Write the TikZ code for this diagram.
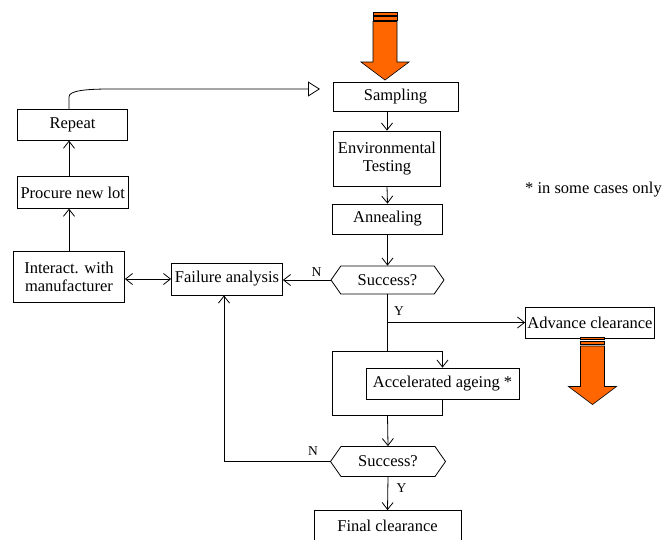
\documentclass[tikz,border=0pt]{standalone}
\usepackage{fontspec}
\setmainfont{Liberation Serif}
\usetikzlibrary{arrows.meta,shapes.symbols}
\definecolor{arroworange}{HTML}{FF6600}
\tikzset{
  box/.style={draw, rectangle, line width=0.8pt, inner sep=2pt, align=center,
    font=\fontsize{16.5}{18.5}\selectfont},
  test/.style={draw, signal, signal to=west and east, signal pointer angle=110,
    line width=0.8pt, inner sep=0pt, minimum width=113pt, minimum height=28pt,
    font=\fontsize{16.5}{18.5}\selectfont},
  lbl/.style={font=\fontsize{13.5}{15}\selectfont, inner sep=1pt},
  flow/.style={line width=0.8pt, ->},
  >={Straight Barb[length=7pt,width=11pt]}
}
\begin{document}
\begin{tikzpicture}[x=1pt,y=-1pt]
        \useasboundingbox (0,0) rectangle (663,539);
        % main column
        \node[box, minimum width=125pt, minimum height=29pt] (sampling) at (395.5,96.5) {Sampling};
        \node[box, minimum width=107pt, minimum height=55pt] (envtest) at (387,158.5) {Environmental\\Testing};
        \node[box, minimum width=110pt, minimum height=30pt] (anneal) at (387.5,219) {Annealing};
        \node[test] (succA) at (387.5,280) {Success?};
        \node[box, minimum width=128pt, minimum height=31pt] (advance) at (590,322.5) {Advance clearance};
        \node[box, minimum width=153pt, minimum height=31pt] (ageing) at (442.5,383.5) {Accelerated ageing *};
        \node[test, minimum width=115pt, minimum height=30pt] (succB) at (388,461.5) {Success?};
        \node[box, minimum width=147pt, minimum height=31pt] (final) at (387.5,526) {Final clearance};
        % left column
        \node[box, minimum width=111pt, minimum height=32pt] (failure) at (227,279) {Failure analysis};
        \node[box, minimum width=111pt, minimum height=51pt] (interact) at (69,277) {Interact. with\\manufacturer};
        \node[box, minimum width=111pt, minimum height=31.5pt] (procure) at (72.8,192.5) {Procure new lot};
        \node[box, minimum width=110pt, minimum height=31pt] (repeat) at (72.5,124.7) {Repeat};
        \node[anchor=west, inner sep=0pt, font=\fontsize{16.5}{18.5}\selectfont] (note) at (525,190) {* in some cases only};
        % connectors
        \draw[flow] (envtest.north |- sampling.south) -- (envtest.north);
        \draw[flow] (envtest.south) -- (anneal.north);
        \draw[flow] (anneal.south) -- (succA.north);
        \coordinate (fork) at (387.5,351);
        \coordinate (loopin) at (332,351);
        \coordinate (join) at (387.5,415);
        \draw[line width=0.8pt] (succA.south) -- (fork);
        \draw[flow] (succA.south |- advance.west) -- (advance.west);
        \node[lbl] (yesA) at (399,311) {Y};
        \draw[flow] (loopin) -| (ageing.north);
        \draw[line width=0.8pt] (loopin) |- (join) (ageing.south) |- (join);
        \draw[flow] (join) -- (succB.north);
        \draw[flow] (succB.south) -- (final.north);
        \node[lbl] (yesB) at (401.5,488) {Y};
        \draw[flow] (succA.west) -- (succA.west -| failure.east);
        \node[lbl] (noA) at (316.5,272) {N};
        \draw[flow] (succB.west) -| ([xshift=-3pt]failure.south);
        \node[lbl] (noB) at (313,451) {N};
        \draw[flow,<->] (interact.east |- failure.west) -- (failure.west);
        \draw[flow] (interact.north) -- (interact.north |- procure.south);
        \draw[flow] (interact.north |- procure.north) -- (interact.north |- repeat.south);
        \coordinate (sampin) at (320,89);
        \draw[line width=0.8pt, -{Triangle[open,length=12pt,width=15pt]}] (interact.north |- repeat.north) -- ++(0,-12)
          .. controls +(0,-6) and +(-25,0) .. (110,89) -- (sampin);
        % orange arrows
        \foreach \ax/\ay in {385/12.5, 592.5/337} {
          \begin{scope}[shift={(\ax,\ay)}]
          \filldraw[fill=arroworange, line width=0.6pt] (-12,0) rectangle (12,2.5);
          \filldraw[fill=arroworange, line width=0.6pt] (-12,4) rectangle (12,7.5);
          \filldraw[fill=arroworange, line width=0.6pt] (-12,9) -- (12,9) -- (12,49.5) -- (24,49.5)
            -- (0,67.5) -- (-24,49.5) -- (-12,49.5) -- cycle;
          \end{scope}
        }
\end{tikzpicture}
\end{document}
